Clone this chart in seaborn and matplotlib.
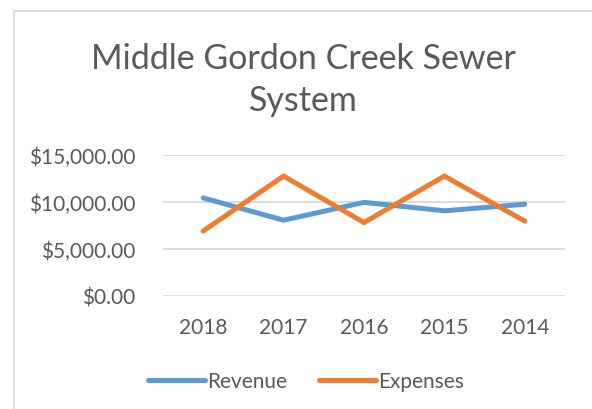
import matplotlib
matplotlib.use("Agg")
import matplotlib.pyplot as plt
from matplotlib.lines import Line2D
from matplotlib.ticker import FuncFormatter
import pandas as pd
import seaborn as sns

# Annual figures for the sewer system
years = ["2018", "2017", "2016", "2015", "2014"]
revenue = [10425, 8050, 9950, 9050, 9750]
expenses = [6900, 12750, 7800, 12750, 7950]
series_names = ["Revenue", "Expenses"]
y_ticks = [0, 5000, 10000, 15000]
title = "Middle Gordon Creek Sewer\nSystem"

df = pd.DataFrame({
    "Year": years * 2,
    "Amount": revenue + expenses,
    "Series": [series_names[0]] * len(years) + [series_names[1]] * len(years),
})

sns.set_theme(style="white")
plt.rcParams["font.family"] = ["Lato", "DejaVu Sans"]

text_color = "#595959"
grid_color = "#d9d9d9"
palette = {"Revenue": "#5B9BD5", "Expenses": "#ED7D31"}

fig = plt.figure(figsize=(5.92, 4.10), dpi=100)
fig.patch.set_facecolor("white")
ax = fig.add_axes([163 / 592, 1 - 296.7 / 410, (565 - 163) / 592, (296.7 - 156) / 410])

sns.lineplot(data=df, x="Year", y="Amount", hue="Series", palette=palette,
             sort=False, linewidth=3.6, ax=ax, legend=False,
             solid_capstyle="round", solid_joinstyle="miter")

ax.set_xlim(-0.5, len(years) - 0.5)
ax.set_ylim(0, 15000)
ax.set_yticks(y_ticks)
ax.yaxis.set_major_formatter(FuncFormatter(lambda v, p: f"${v:,.2f}"))
ax.grid(axis="y", color=grid_color, linewidth=1.3)
ax.set_axisbelow(True)
for s in ax.spines.values():
    s.set_visible(False)
ax.set_xlabel("")
ax.set_ylabel("")
ax.tick_params(axis="both", length=0, labelsize=15, labelcolor=text_color)
ax.tick_params(axis="y", pad=20)
ax.tick_params(axis="x", pad=15)

fig.text(303.5 / 592, 1 - 43 / 410, title, ha="center", va="top",
         fontsize=24.5, color=text_color, linespacing=1.4)

handles = [Line2D([0], [0], color=palette[n], linewidth=3.6, solid_capstyle="round")
           for n in series_names]
fig.legend(handles, series_names, loc="center", bbox_to_anchor=(306 / 592, 1 - 382 / 410),
           ncol=2, frameon=False, fontsize=15, labelcolor=text_color,
           handlelength=2.75, handletextpad=0.12, columnspacing=1.5)

# Chart-area frame (left and top edges)
fig.add_artist(Line2D([14 / 592, 14 / 592], [0, 1 - 12 / 410], color=grid_color,
                      linewidth=1.3, transform=fig.transFigure))
fig.add_artist(Line2D([14 / 592, 1], [1 - 12 / 410, 1 - 12 / 410], color=grid_color,
                      linewidth=1.3, transform=fig.transFigure))

fig.savefig("out.png", dpi=100)
